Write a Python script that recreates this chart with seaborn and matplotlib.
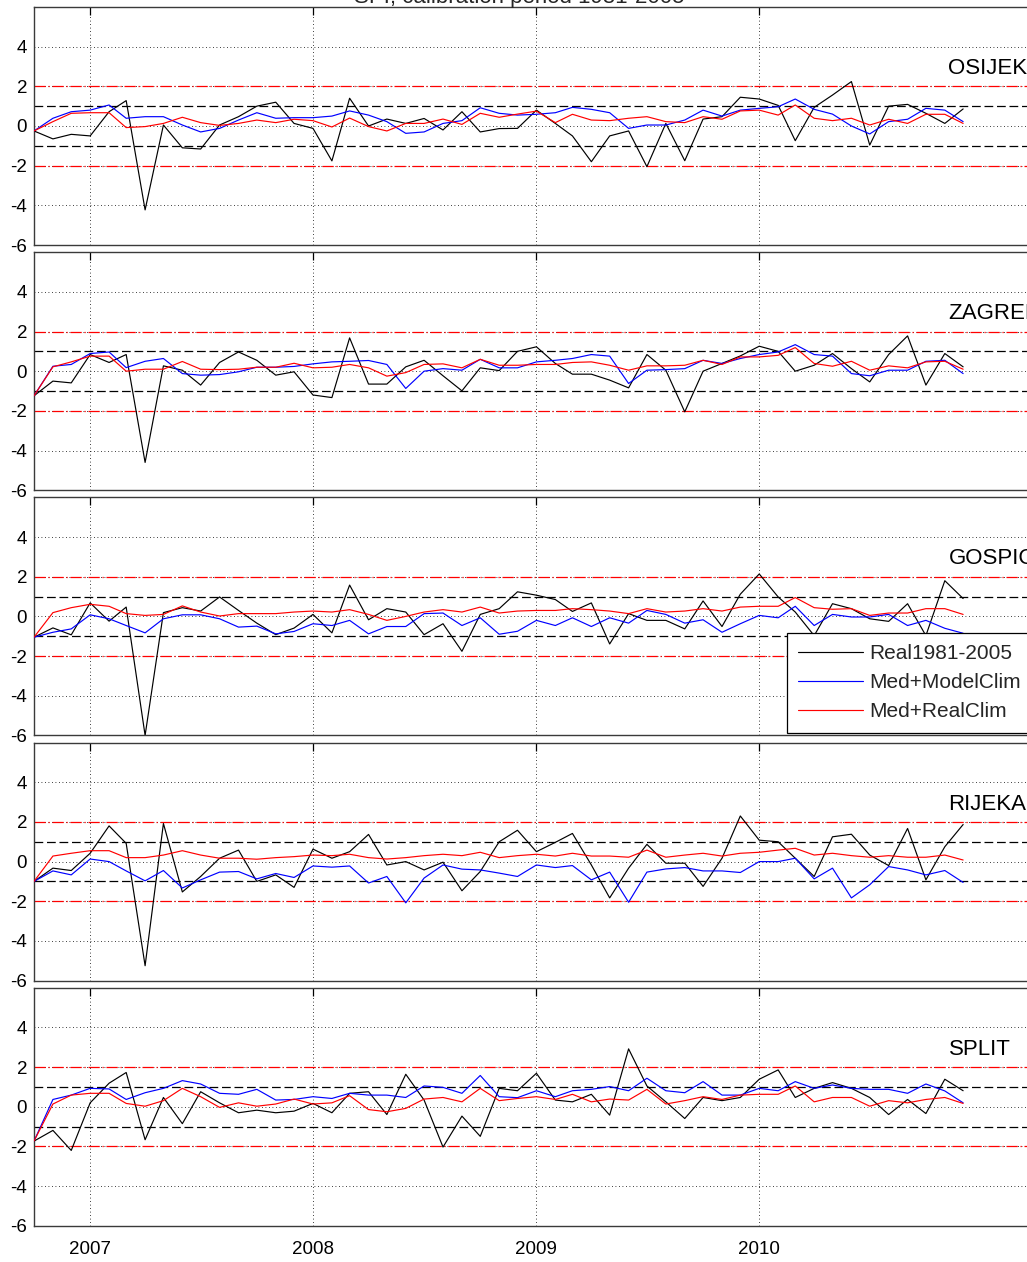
import numpy as np
import pandas as pd
import matplotlib
matplotlib.use("Agg")
import matplotlib.pyplot as plt
import seaborn as sns

# ---------------- data ----------------
dates = pd.date_range("2006-10-01", periods=51, freq="MS")
stations = ["OSIJEK", "ZAGREB", "GOSPIC", "RIJEKA", "SPLIT"]
series_labels = ["Real1981-2005", "Med+ModelClim", "Med+RealClim"]
year_ticks = ["2007", "2008", "2009", "2010"]
title = "SPI, calibration period 1981-2005"

osijek_real = [-0.25, -0.65, -0.42, -0.5, 0.72, 1.28, -4.23, 0.05, -1.1, -1.16,
               0.05, 0.47, 1.0, 1.2, 0.13, -0.12, -1.76, 1.4, 0.0, 0.35,
               0.13, 0.38, -0.2, 0.72, -0.3, -0.13,
               -0.12, 0.8, 0.13, -0.5, -1.8, -0.5, -0.25, -2.05, 0.13, -1.75,
               0.35, 0.47, 1.45, 1.36, 1.04, -0.74, 0.94, 1.56, 2.24, -0.96,
               1.0, 1.09, 0.64, 0.13, 0.86]
osijek_model = [-0.25, 0.39, 0.72, 0.8, 1.06, 0.39, 0.47, 0.47, 0.05, -0.3,
                -0.12, 0.3, 0.67, 0.39, 0.42, 0.42, 0.5, 0.76, 0.55, 0.22,
                -0.37, -0.3, 0.13, 0.27, 0.92, 0.64,
                0.55, 0.59, 0.67, 0.94, 0.84, 0.67, -0.12, 0.05, 0.05, 0.3,
                0.8, 0.5, 0.8, 0.89, 0.97, 1.36, 0.84, 0.6, 0.0, -0.4,
                0.22, 0.34, 0.89, 0.8, 0.22]
osijek_realclim = [-0.25, 0.22, 0.64, 0.67, 0.67, -0.08, -0.03, 0.13, 0.44, 0.17,
                   0.03, 0.13, 0.3, 0.17, 0.34, 0.27, -0.05, 0.4, -0.03, -0.25,
                   0.13, 0.13, 0.35, 0.08, 0.64, 0.44,
                   0.6, 0.75, 0.17, 0.59, 0.3, 0.27, 0.39, 0.47, 0.22, 0.17,
                   0.47, 0.34, 0.76, 0.8, 0.55, 1.06, 0.39, 0.27, 0.39, 0.05,
                   0.34, 0.13, 0.59, 0.59, 0.13]

zagreb_real = [-1.24, -0.5, -0.59, 0.84, 0.44, 0.84, -4.6, 0.27, 0.05, -0.7,
               0.44, 0.97, 0.55, -0.2, -0.03, -1.2, -1.33, 1.68, -0.65, -0.65,
               0.22, 0.55, -0.23, -0.99, 0.17, 0.03,
               1.0, 1.23, 0.39, -0.15, -0.15, -0.45, -0.84, 0.84, 0.05, -2.05,
               0.0, 0.39, 0.77, 1.26, 1.0, 0.0, 0.3, 0.89, 0.13, -0.54,
               0.84, 1.78, -0.7, 0.89, 0.22]
zagreb_model = [-1.24, 0.25, 0.34, 0.89, 0.97, 0.18, 0.5, 0.64, -0.12, -0.2,
                -0.17, -0.03, 0.2, 0.2, 0.24, 0.37, 0.47, 0.5, 0.54, 0.34,
                -0.87, 0.0, 0.13, 0.05, 0.6, 0.17,
                0.17, 0.47, 0.55, 0.64, 0.84, 0.76, -0.62, 0.05, 0.08, 0.13,
                0.55, 0.39, 0.64, 0.84, 0.97, 1.34, 0.84, 0.76, -0.12, -0.23,
                0.05, 0.05, 0.5, 0.55, -0.12]
zagreb_realclim = [-1.24, 0.22, 0.47, 0.76, 0.76, 0.0, 0.1, 0.1, 0.49, 0.1,
                   0.08, 0.1, 0.2, 0.2, 0.4, 0.17, 0.2, 0.34, 0.17, -0.25,
                   -0.07, 0.34, 0.37, 0.17, 0.6, 0.3,
                   0.3, 0.34, 0.34, 0.44, 0.47, 0.3, 0.05, 0.27, 0.27, 0.3,
                   0.55, 0.34, 0.72, 0.72, 0.8, 1.19, 0.39, 0.25, 0.5, 0.05,
                   0.27, 0.17, 0.47, 0.5, 0.1]

gospic_real = [-1.05, -0.58, -0.93, 0.68, -0.24, 0.47, -6.0, 0.19, 0.44, 0.27,
               0.98, 0.3, -0.34, -0.92, -0.59, 0.1, -0.83, 1.58, -0.17, 0.39,
               0.22, -0.92, -0.37, -1.76, 0.1, 0.39,
               1.24, 1.07, 0.85, 0.25, 0.68, -1.39, 0.14, -0.2, -0.2, -0.63,
               0.78, -0.51, 1.12, 2.14, 0.98, 0.22, -0.97, 0.64, 0.39, -0.12,
               -0.25, 0.64, -0.97, 1.8, 0.9]
gospic_model = [-1.05, -0.8, -0.63, 0.08, -0.12, -0.46, -0.83, -0.12, 0.08, 0.08,
                -0.12, -0.54, -0.49, -0.88, -0.76, -0.37, -0.46, -0.2, -0.88, -0.51,
                -0.51, 0.14, 0.17, -0.46, -0.07, -0.9,
                -0.75, -0.2, -0.46, -0.07, -0.51, -0.07, -0.34, 0.3, 0.1, -0.34,
                -0.17, -0.8, -0.37, 0.05, -0.07, 0.51, -0.46, 0.1, -0.03, -0.03,
                0.1, -0.46, -0.2, -0.6, -0.85]
gospic_realclim = [-1.05, 0.19, 0.44, 0.61, 0.51, 0.14, 0.05, 0.1, 0.53, 0.22,
                   0.02, 0.14, 0.14, 0.14, 0.22, 0.27, 0.22, 0.34, 0.1, -0.2,
                   0.0, 0.22, 0.34, 0.22, 0.47, 0.17,
                   0.27, 0.3, 0.3, 0.39, 0.34, 0.27, 0.14, 0.39, 0.22, 0.27,
                   0.39, 0.27, 0.47, 0.51, 0.51, 0.95, 0.44, 0.36, 0.39, 0.05,
                   0.17, 0.17, 0.39, 0.39, 0.1]

rijeka_real = [-1.0, -0.33, -0.45, 0.42, 1.8, 0.92, -5.25, 1.92, -1.53, -0.75,
               0.17, 0.58, -1.0, -0.67, -1.3, 0.63, 0.17, 0.5, 1.37, -0.17,
               0.0, -0.42, -0.03, -1.47, -0.5, 1.0,
               1.58, 0.5, 0.97, 1.42, -0.17, -1.83, -0.33, 0.87, -0.08, -0.08,
               -1.25, 0.17, 2.3, 1.08, 1.0, 0.17, -0.75, 1.25, 1.38, 0.33,
               -0.2, 1.67, -0.92, 0.75, 1.87]
rijeka_model = [-1.0, -0.47, -0.67, 0.13, 0.0, -0.47, -0.97, -0.45, -1.33, -0.92,
                -0.53, -0.5, -0.87, -0.6, -0.8, -0.22, -0.28, -0.22, -1.08, -0.75,
                -2.08, -0.83, -0.17, -0.38, -0.42, -0.58,
                -0.75, -0.17, -0.3, -0.2, -0.92, -0.53, -2.05, -0.53, -0.37, -0.3,
                -0.47, -0.47, -0.55, 0.0, 0.0, 0.17, -0.87, -0.33, -1.83, -1.17,
                -0.25, -0.42, -0.67, -0.45, -1.05]
rijeka_realclim = [-1.0, 0.28, 0.42, 0.55, 0.55, 0.2, 0.2, 0.33, 0.55, 0.33,
                   0.17, 0.17, 0.12, 0.2, 0.25, 0.33, 0.3, 0.37, 0.2, 0.13,
                   0.2, 0.3, 0.37, 0.3, 0.47, 0.2,
                   0.3, 0.37, 0.28, 0.42, 0.28, 0.28, 0.22, 0.58, 0.22, 0.33,
                   0.42, 0.28, 0.42, 0.47, 0.58, 0.67, 0.33, 0.42, 0.3, 0.22,
                   0.3, 0.22, 0.22, 0.33, 0.08]

split_real = [-1.73, -1.19, -2.2, 0.2, 1.19, 1.73, -1.66, 0.47, -0.85, 0.76,
              0.2, -0.3, -0.17, -0.3, -0.22, 0.17, -0.3, 0.68, 0.76, -0.39,
              1.64, 0.34, -2.03, -0.47, -1.49, 0.93,
              0.81, 1.69, 0.34, 0.25, 0.63, -0.42, 2.92, 1.05, 0.25, -0.59,
              0.47, 0.31, 0.47, 1.39, 1.86, 0.47, 0.93, 1.22, 0.93, 0.47,
              -0.39, 0.37, -0.34, 1.39, 0.81]
split_model = [-1.73, 0.37, 0.59, 0.93, 0.9, 0.37, 0.71, 0.93, 1.32, 1.15,
               0.68, 0.63, 0.88, 0.34, 0.37, 0.51, 0.42, 0.68, 0.59, 0.59,
               0.47, 1.05, 0.98, 0.68, 1.58, 0.51,
               0.46, 0.81, 0.51, 0.81, 0.88, 1.02, 0.81, 1.44, 0.81, 0.71,
               1.27, 0.59, 0.59, 0.93, 0.81, 1.27, 0.93, 1.1, 0.93, 0.88,
               0.88, 0.68, 1.15, 0.8, 0.2]
split_realclim = [-1.73, 0.14, 0.59, 0.68, 0.68, 0.17, 0.03, 0.31, 0.93, 0.51,
                  -0.03, 0.2, 0.03, 0.14, 0.39, 0.14, 0.2, 0.56, -0.14, -0.25,
                  -0.08, 0.39, 0.47, 0.25, 0.93, 0.31,
                  0.42, 0.51, 0.37, 0.63, 0.25, 0.39, 0.34, 0.88, 0.14, 0.31,
                  0.51, 0.37, 0.59, 0.63, 0.63, 1.05, 0.25, 0.47, 0.47, 0.03,
                  0.31, 0.2, 0.37, 0.47, 0.17]

station_data = {
    "OSIJEK": [osijek_real, osijek_model, osijek_realclim],
    "ZAGREB": [zagreb_real, zagreb_model, zagreb_realclim],
    "GOSPIC": [gospic_real, gospic_model, gospic_realclim],
    "RIJEKA": [rijeka_real, rijeka_model, rijeka_realclim],
    "SPLIT": [split_real, split_model, split_realclim],
}

# ---------------- style ----------------
sns.set_style("white")
plt.rcParams["font.family"] = ["Liberation Sans", "DejaVu Sans"]
palette = {series_labels[0]: "#000000", series_labels[1]: "#0000ff",
           series_labels[2]: "#ff0000"}

W, H = 1027, 1262
fig = plt.figure(figsize=(W / 100, H / 100), dpi=100)

x_left = pd.Timestamp("2006-10-01")
x_right = pd.Timestamp("2011-04-01")
ax_left_px, ax_right_px = 34, 1037
panel_h = 238
panel_step = 245.2
top0 = 7

for k, name in enumerate(stations):
    top = top0 + k * panel_step
    ax = fig.add_axes([ax_left_px / W, 1 - (top + panel_h) / H,
                       (ax_right_px - ax_left_px) / W, panel_h / H])
    vals = station_data[name]
    df = pd.DataFrame({
        "date": np.tile(dates, 3),
        "spi": np.concatenate([np.asarray(v, float) for v in vals]),
        "series": np.repeat(series_labels, len(dates)),
    })
    sns.lineplot(data=df, x="date", y="spi", hue="series", hue_order=series_labels,
                 palette=palette, estimator=None, sort=False, lw=0.85,
                 legend=False, ax=ax, zorder=3)
    data_lines = list(ax.get_lines())[:3]

    ax.axhline(2, color="red", lw=0.9, dashes=(9, 2.2, 1, 2.2), zorder=2)
    ax.axhline(-2, color="red", lw=0.9, dashes=(9, 2.2, 1, 2.2), zorder=2)
    ax.axhline(1, color="black", lw=0.9, dashes=(7, 3), zorder=2)
    ax.axhline(-1, color="black", lw=0.9, dashes=(7, 3), zorder=2)

    ax.set_xlim(x_left, x_right)
    ax.set_ylim(-6, 6)
    ax.set_yticks([-6, -4, -2, 0, 2, 4])
    ax.set_yticklabels(["-6", "-4", "-2", "0", "2", "4"])
    ax.set_xticks([pd.Timestamp(y + "-01-01") for y in year_ticks])
    if k == len(stations) - 1:
        ax.set_xticklabels(year_ticks)
    else:
        ax.set_xticklabels([])
    ax.set_xlabel("")
    ax.set_ylabel("")
    ax.grid(True, color="black", lw=0.6, linestyle=(0, (1, 3.2)), zorder=1)
    ax.tick_params(direction="in", length=6, width=0.9, top=True, right=True,
                   labelsize=13.5, colors="black", pad=5)
    ax.tick_params(axis="x", pad=11)
    for sp in ax.spines.values():
        sp.set_color("#3a3a3a")
        sp.set_linewidth(1.0)

    ax.text(pd.Timestamp("2010-11-07"), 2.9, name, fontsize=16,
            ha="left", va="center", color="black")

    if name == "GOSPIC":
        ax.legend(data_lines, series_labels, loc="upper left",
                  bbox_to_anchor=(787 / W, 1 - 633 / H),
                  bbox_transform=fig.transFigure, frameon=True, fancybox=False,
                  edgecolor="black", framealpha=1, fontsize=15,
                  handlelength=3.1, handletextpad=0.3, labelspacing=0.48,
                  borderpad=0.55, borderaxespad=0)
        ax.get_legend().get_frame().set_linewidth(0.9)

fig.text(519 / W, 1 - 2.5 / H, title, ha="center", va="baseline", fontsize=16)

fig.savefig("out.png", dpi=100)
